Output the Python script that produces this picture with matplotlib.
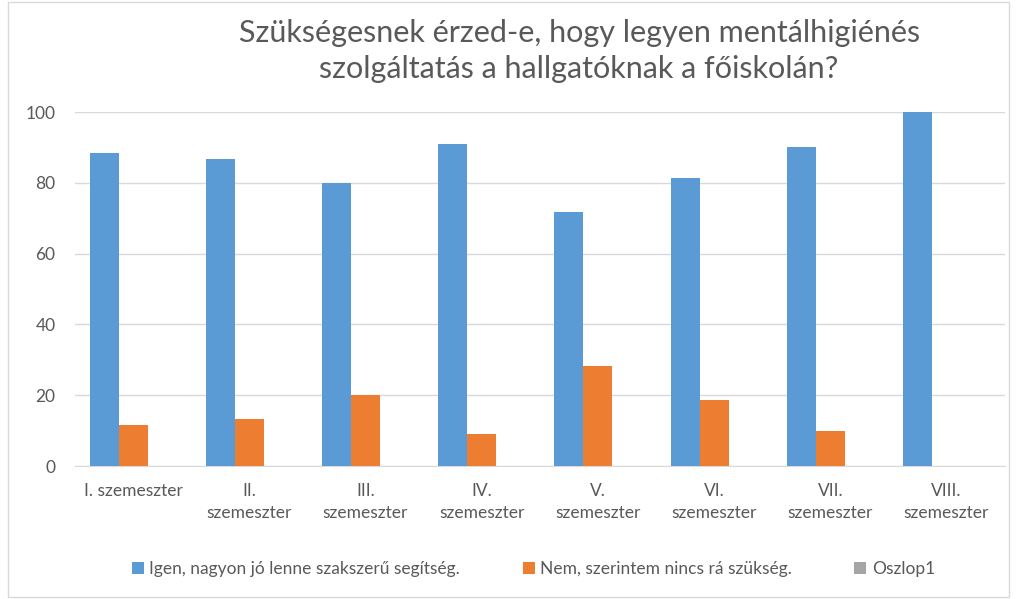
import numpy as np
import matplotlib.pyplot as plt
from matplotlib.patches import Rectangle

categories = ['I. szemeszter', 'II.\nszemeszter', 'III.\nszemeszter', 'IV.\nszemeszter',
              'V.\nszemeszter', 'VI.\nszemeszter', 'VII.\nszemeszter', 'VIII.\nszemeszter']
igen = [88.4, 86.7, 79.9, 91.0, 71.8, 81.4, 90.1, 100.0]
nem = [11.6, 13.3, 20.1, 9.0, 28.2, 18.6, 9.9, 0.0]
oszlop1 = [0, 0, 0, 0, 0, 0, 0, 0]
series_names = ['Igen, nagyon jó lenne szakszerű segítség.', 'Nem, szerintem nincs rá szükség.', 'Oszlop1']
colors = ['#5b9bd5', '#ed7d31', '#a5a5a5']

plt.rcParams['font.family'] = ['Lato', 'DejaVu Sans']

fig = plt.figure(figsize=(10.16, 5.99), dpi=100)
ax = fig.add_axes([0.0738, 0.222, 0.915, 0.591])

x = np.arange(len(categories))
w = 0.25
for i, (vals, name, c) in enumerate(zip([igen, nem, oszlop1], series_names, colors)):
    ax.bar(x + (i - 1) * w, vals, w, color=c, label=name, zorder=3)

ax.set_xlim(-0.5, len(categories) - 0.5)
ax.set_ylim(0, 100)
ax.set_yticks(range(0, 101, 20))
ax.grid(axis='y', color='#d9d9d9', linewidth=1, zorder=0)
ax.set_xticks(x)
ax.set_xticklabels(categories, fontsize=12.5, color='#595959', linespacing=1.45)
ax.tick_params(axis='y', labelsize=12.5, labelcolor='#595959', length=0, pad=14)
ax.tick_params(axis='x', length=0, pad=12)
for s in ['top', 'right', 'left']:
    ax.spines[s].set_visible(False)
ax.spines['bottom'].set_color('#d9d9d9')

fig.text(0.57, 0.915, 'Szükségesnek érzed-e, hogy legyen mentálhigiénés\nszolgáltatás a hallgatóknak a főiskolán?',
         ha='center', va='center', fontsize=22, color='#595959', linespacing=1.35)

ax.legend(loc='center', bbox_to_anchor=(0.525, 0.05), bbox_transform=fig.transFigure, ncol=3,
          frameon=False, fontsize=12.5, labelcolor='#595959', handlelength=0.7, handleheight=0.7,
          handletextpad=0.3, columnspacing=3.6)

fig.patches.append(Rectangle((0.008, 0.003), 0.985, 0.994, transform=fig.transFigure,
                             fill=False, edgecolor='#d9d9d9', linewidth=1))

fig.savefig('out.png', dpi=100)
